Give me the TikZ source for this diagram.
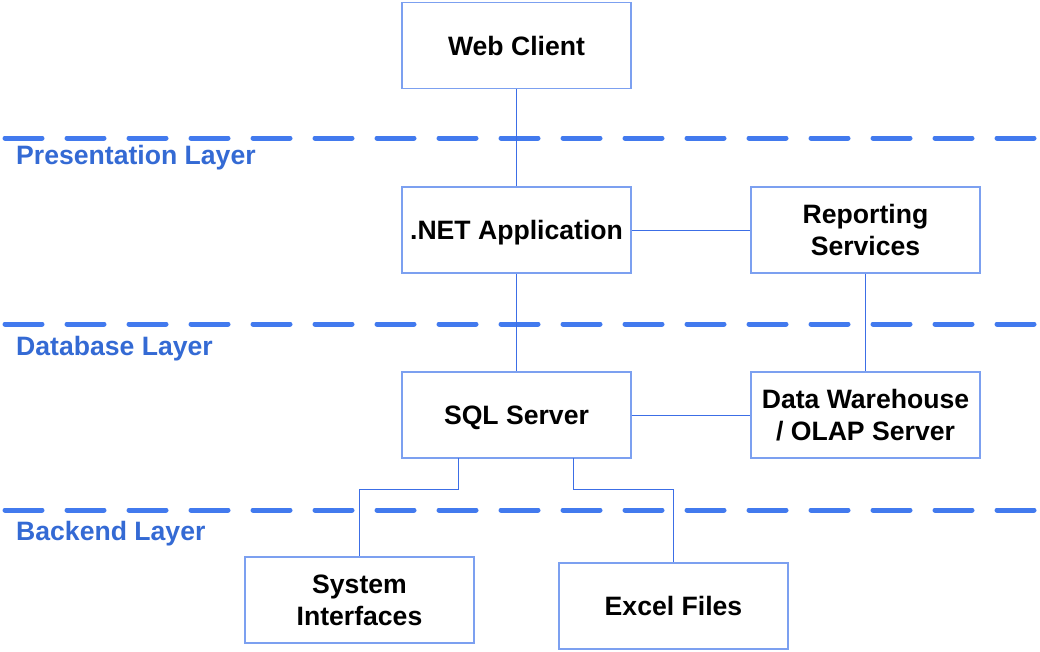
\documentclass[tikz,border=0pt]{standalone}
\usepackage{fontspec}
\setmainfont{Liberation Sans}
\definecolor{dashblue}{RGB}{66,122,238}
\definecolor{labelblue}{RGB}{52,106,212}
\definecolor{boxblue}{RGB}{124,160,240}
\definecolor{linkblue}{RGB}{60,110,230}
\begin{document}
\begin{tikzpicture}[x=1pt,y=-1pt,
  box/.style={draw=boxblue,line width=1.3pt,fill=white,minimum width=229pt,minimum height=86pt,inner sep=0pt,align=center,font=\fontsize{26.6}{32}\selectfont\bfseries},
  oneline/.style={text height=19pt,text depth=0pt},
  layerline/.style={draw=dashblue,line width=5pt,line cap=round,dash pattern=on 37pt off 25pt},
  layerlabel/.style={anchor=base west,inner sep=0pt,text=labelblue,font=\fontsize{26.6}{32}\selectfont\bfseries},
  link/.style={draw=linkblue,line width=1pt}]
\useasboundingbox (0,0) rectangle (1040,651);
% layer separators
\coordinate (p1) at (5,138); \coordinate (p2) at (1037,138);
\coordinate (d1) at (5,324); \coordinate (d2) at (1037,324);
\coordinate (b1) at (5,510); \coordinate (b2) at (1037,510);
\draw[layerline] (p1) -- (p2);
\draw[layerline] (d1) -- (d2);
\draw[layerline] (b1) -- (b2);
\node[layerlabel] (pl) at (16,164) {Presentation Layer};
\node[layerlabel] (dl) at (16,355) {Database Layer};
\node[layerlabel] (bl) at (16,540) {Backend Layer};
% connector bend points
\coordinate (sqlL) at (458,458); \coordinate (sqlR) at (573,458);
\coordinate (jl1) at (458,489); \coordinate (jl2) at (359,489);
\coordinate (jr1) at (573,489); \coordinate (jr2) at (673,489);
% boxes
\node[box,oneline] (web) at (516.5,45.5) {Web Client};
\node[box,oneline] (net) at (516.5,230) {.NET Application};
\node[box] (rep) at (865.5,230) {Reporting\\Services};
\node[box,oneline] (sql) at (516.5,415) {SQL Server};
\node[box] (dw) at (865.5,415) {Data Warehouse\\/ OLAP Server};
\node[box] (sys) at (359.5,600) {System\\Interfaces};
\node[box,oneline] (xls) at (673.5,606) {Excel Files};
\draw[link] (web.south) -- (net.north);
\draw[link] (net.east) -- (rep.west);
\draw[link] (net.south) -- (sql.north);
\draw[link] (rep.south) -- (dw.north);
\draw[link] (sql.east) -- (dw.west);
\draw[link] (sqlL) -- (jl1) -- (jl2) -- (jl2 |- sys.north);
\draw[link] (sqlR) -- (jr1) -- (jr2) -- (jr2 |- xls.north);
\end{tikzpicture}
\end{document}
